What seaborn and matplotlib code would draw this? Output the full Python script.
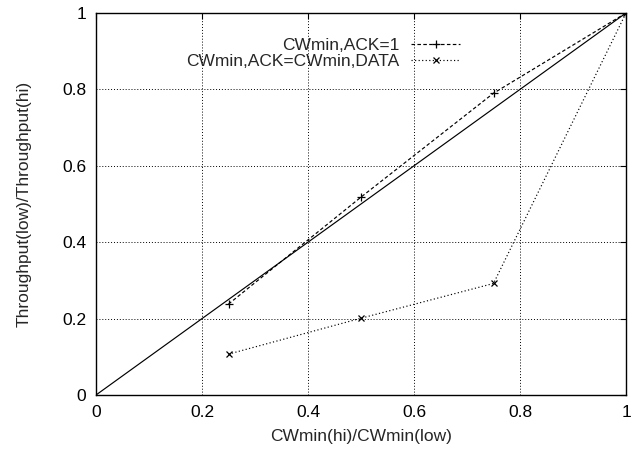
import matplotlib
matplotlib.use("Agg")
import matplotlib.pyplot as plt
import seaborn as sns
import pandas as pd
from matplotlib.ticker import FormatStrFormatter, MultipleLocator

# CWmin ratio on the x axis, throughput ratio on the y axis
cw_ratio = [0.25, 0.5, 0.75, 1.0]
ack_one = [0.238, 0.518, 0.790, 1.0]
ack_cwdata = [0.107, 0.201, 0.292, 1.0]
diag_x = [0.0, 1.0]
diag_y = [0.0, 1.0]

label_ack_one = "CWmin,ACK=1"
label_ack_cwdata = "CWmin,ACK=CWmin,DATA"

FS = 12.5

sns.set_style("white")
plt.rcParams["font.family"] = ["Liberation Sans", "DejaVu Sans"]
plt.rcParams["font.size"] = FS

fig = plt.figure(figsize=(6.34, 4.49), dpi=100)
ax = fig.add_axes([96 / 634, 54 / 449, 530 / 634, 382 / 449])

df1 = pd.DataFrame({"x": cw_ratio, "y": ack_one})
df2 = pd.DataFrame({"x": cw_ratio, "y": ack_cwdata})
dfd = pd.DataFrame({"x": diag_x, "y": diag_y})

sns.lineplot(data=dfd, x="x", y="y", ax=ax, color="black", lw=0.85,
             legend=False)
sns.lineplot(data=df1, x="x", y="y", ax=ax, color="black", lw=0.85,
             linestyle=(0, (3, 2)), marker="+", markersize=5.5,
             markeredgewidth=0.9, markeredgecolor="black",
             label=label_ack_one)
sns.lineplot(data=df2, x="x", y="y", ax=ax, color="black", lw=0.85,
             linestyle=(0, (1, 2)), marker="x", markersize=4.5,
             markeredgewidth=0.9, markeredgecolor="black",
             label=label_ack_cwdata)

ax.set_xlim(0, 1)
ax.set_ylim(0, 1)
ax.xaxis.set_major_locator(MultipleLocator(0.2))
ax.yaxis.set_major_locator(MultipleLocator(0.2))
ax.xaxis.set_major_formatter(FormatStrFormatter("%g"))
ax.yaxis.set_major_formatter(FormatStrFormatter("%g"))
ax.grid(True, color="black", linestyle=(0, (1, 2)), linewidth=0.7)
ax.tick_params(direction="in", length=4, width=0.8, colors="black",
               top=True, right=True, labelsize=FS, pad=7)
for s in ax.spines.values():
    s.set_color("black")
    s.set_linewidth(1.0)

ax.set_xlabel("CWmin(hi)/CWmin(low)", fontsize=FS, labelpad=7)
ax.set_ylabel("Throughput(low)/Throughput(hi)", fontsize=FS, labelpad=22)

ax.legend(loc="upper right", bbox_to_anchor=(0.687, 0.935),
          markerfirst=False, frameon=False, handlelength=2.8,
          handletextpad=0.7, labelspacing=0.05, borderpad=0,
          borderaxespad=0, fontsize=FS)

fig.savefig("out.png", dpi=100)
